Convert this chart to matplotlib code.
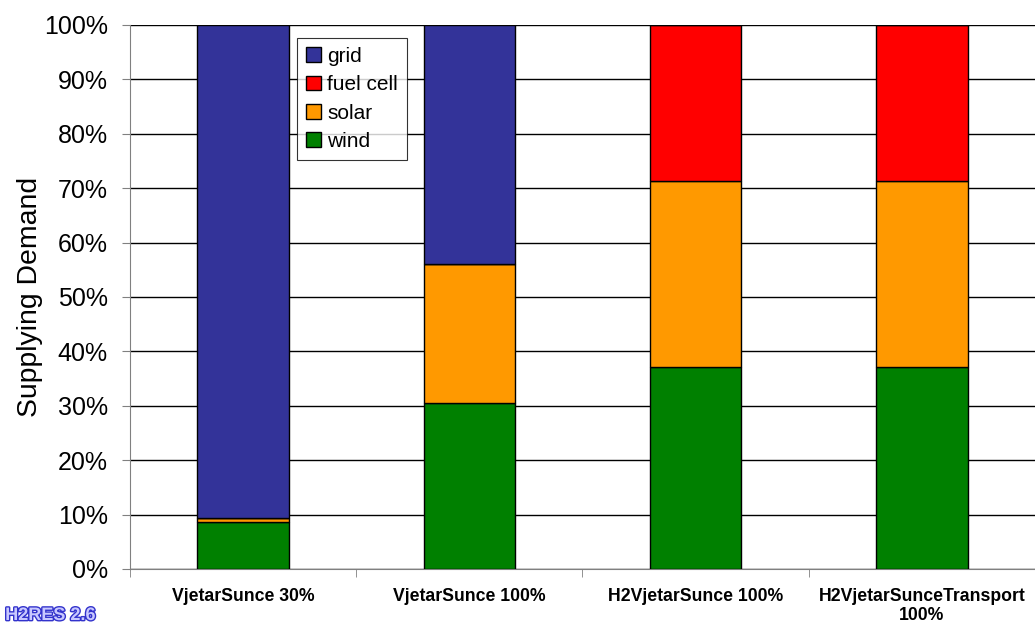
import numpy as np
import matplotlib.pyplot as plt
import matplotlib.patheffects as pe
from matplotlib.ticker import PercentFormatter

plt.rcParams['font.family'] = ['Liberation Sans', 'DejaVu Sans']

categories = ['VjetarSunce 30%', 'VjetarSunce 100%', 'H2VjetarSunce 100%',
              'H2VjetarSunceTransport\n100%']
wind = [8.7, 30.5, 37.1, 37.1]
solar = [0.7, 25.6, 34.2, 34.2]
fuel_cell = [0.0, 0.0, 28.7, 28.7]
grid = [90.6, 43.9, 0.0, 0.0]

colors = {'wind': '#008000', 'solar': '#FF9900', 'fuel cell': '#FF0000', 'grid': '#333399'}

fig = plt.figure(figsize=(10.35, 6.25), dpi=100)
ax = fig.add_axes([0.1256, 0.0896, 0.8744, 0.8704])

x = np.arange(len(categories))
w = 0.405
bottom = np.zeros(len(categories))
handles = {}
for name, vals in [('wind', wind), ('solar', solar), ('fuel cell', fuel_cell), ('grid', grid)]:
    vals = np.array(vals)
    b = ax.bar(x, vals, w, bottom=bottom, color=colors[name], edgecolor='black',
               linewidth=1.0, zorder=3, label=name)
    handles[name] = b
    bottom += vals

ax.set_xlim(-0.5, 3.5)
ax.set_ylim(0, 100)
ax.set_yticks(np.arange(0, 101, 10))
ax.yaxis.set_major_formatter(PercentFormatter(decimals=0))
ax.yaxis.grid(True, color='black', linewidth=1.0, zorder=0)
ax.tick_params(axis='y', labelsize=18, direction='out', length=6, color='gray', pad=10)
ax.set_xticks(x)
ax.set_xticklabels(categories, fontsize=12.7, fontweight='bold', linespacing=1.1)
ax.set_xticks(np.arange(-0.5, 3.6, 1), minor=True)
ax.tick_params(axis='x', which='major', length=0, pad=14)
ax.tick_params(axis='x', which='minor', length=6, color='gray')
for s in ['top', 'right']:
    ax.spines[s].set_visible(False)
ax.spines['left'].set_color('gray')
ax.spines['bottom'].set_color('gray')
ax.set_ylabel('Supplying Demand', fontsize=20.4)
ax.yaxis.set_label_coords(-0.096, 0.5)

order = ['grid', 'fuel cell', 'solar', 'wind']
leg = ax.legend([handles[k] for k in order], order, loc='upper left',
                bbox_to_anchor=(0.185, 0.976), fontsize=15, frameon=True,
                fancybox=False, edgecolor='black', handlelength=0.7, handleheight=0.7,
                handletextpad=0.3, borderpad=0.42, labelspacing=0.45, borderaxespad=0)
leg.get_frame().set_linewidth(0.8)
leg.set_zorder(5)

# program logo in the corner
fig.text(0.005, 0.008, 'H2RES 2.6', fontsize=13, fontweight='bold', color='#c8c8ff',
         path_effects=[pe.withStroke(linewidth=2, foreground='#3333cc')])

fig.savefig('out.png', dpi=100)
